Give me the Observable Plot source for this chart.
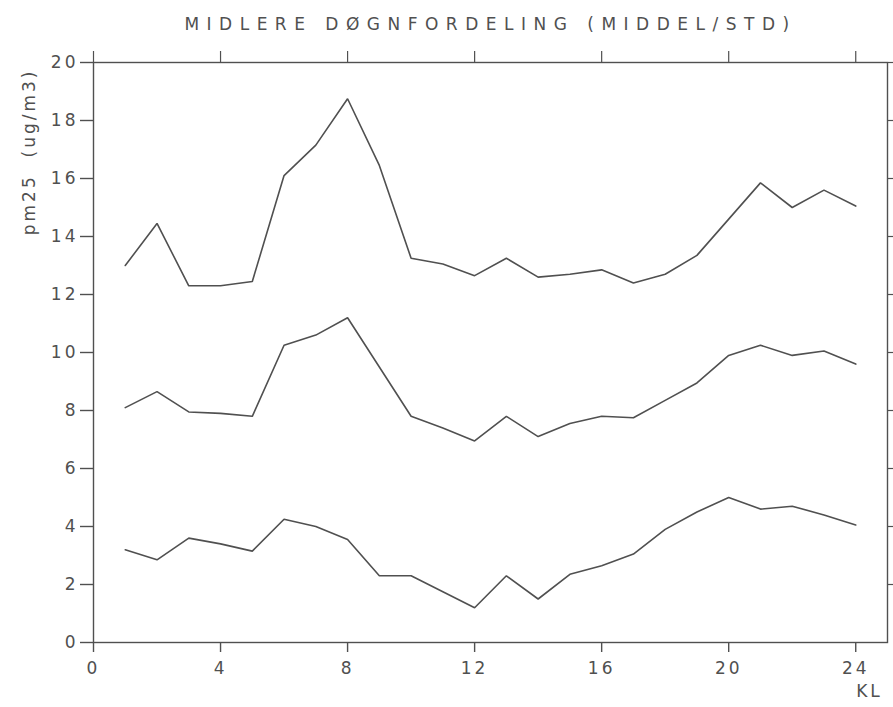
<!DOCTYPE html>
<html>
<head>
<meta charset="utf-8">
<script src="https://cdn.jsdelivr.net/npm/d3@7"></script>
<script src="https://cdn.jsdelivr.net/npm/@observablehq/plot@0.6"></script>
<style>
  html, body { margin: 0; padding: 0; background: #fff; }
</style>
</head>
<body>
<div id="chart"></div>
<script>
// Hour of day (KL) and daily profile of pm25 (ug/m3)
const hours = d3.range(1, 25);
const upper = [13.0, 14.45, 12.3, 12.3, 12.45, 16.1, 17.15, 18.75, 16.45, 13.25, 13.05, 12.65,
               13.25, 12.6, 12.7, 12.85, 12.4, 12.7, 13.35, 14.6, 15.85, 15.0, 15.6, 15.05];
const middel = [8.1, 8.65, 7.95, 7.9, 7.8, 10.25, 10.6, 11.2, 9.5, 7.8, 7.4, 6.95,
                7.8, 7.1, 7.55, 7.8, 7.75, 8.35, 8.95, 9.9, 10.25, 9.9, 10.05, 9.6];
const std = [3.2, 2.85, 3.6, 3.4, 3.15, 4.25, 4.0, 3.55, 2.3, 2.3, 1.75, 1.2,
             2.3, 1.5, 2.35, 2.65, 3.05, 3.9, 4.5, 5.0, 4.6, 4.7, 4.4, 4.05];

const xTicks = [0, 4, 8, 12, 16, 20, 24];
const yTicks = [0, 2, 4, 6, 8, 10, 12, 14, 16, 18, 20];

const title = "MIDLERE DØGNFORDELING (MIDDEL/STD)";
const yLabel = "pm25  (ug/m3)";
const xLabel = "KL";

const rows = [
  ...hours.map((h, i) => ({hour: h, value: upper[i], series: "upper"})),
  ...hours.map((h, i) => ({hour: h, value: middel[i], series: "middel"})),
  ...hours.map((h, i) => ({hour: h, value: std[i], series: "std"}))
];

const ink = "#505050";

const chart = Plot.plot({
  width: 893,
  height: 707,
  marginLeft: 93,
  marginRight: 6,
  marginTop: 62,
  marginBottom: 65,
  style: {
    fontFamily: "DejaVu Sans, sans-serif",
    fontSize: "17px",
    color: ink,
    background: "#fff",
    letterSpacing: "3px"
  },
  x: {domain: [0, 25]},
  y: {domain: [0, 20]},
  marks: [
    Plot.frame({stroke: ink, strokeWidth: 1.4}),
    Plot.axisY({ticks: yTicks, tickSize: 13, tickPadding: 2, anchor: "left", label: null, stroke: ink, strokeWidth: 1.4}),
    Plot.axisY({ticks: d3.range(2, 21, 2), tickSize: 5, anchor: "right", tickFormat: () => "", label: null, stroke: ink, strokeWidth: 1.2}),
    Plot.axisX({ticks: xTicks, tickSize: 10, tickPadding: 9, anchor: "bottom", label: null, stroke: ink, strokeWidth: 1.4}),
    Plot.axisX({ticks: xTicks, tickSize: 12, anchor: "top", tickFormat: () => "", label: null, stroke: ink, strokeWidth: 1.2}),
    Plot.line(rows, {x: "hour", y: "value", z: "series", stroke: ink, strokeWidth: 1.6, strokeLinejoin: "miter"}),
    Plot.text([title], {frameAnchor: "top", dy: -45, fontSize: 17, fill: ink}),
    Plot.text([yLabel], {frameAnchor: "top-left", dx: -71, dy: 6, rotate: -90, textAnchor: "end", fontSize: 17, fill: ink}),
    Plot.text([xLabel], {frameAnchor: "bottom-right", dx: -18, dy: 54, textAnchor: "middle", fontSize: 17, fill: ink})
  ]
});

// Wider spacing for the title, as in plotter lettering
d3.select(chart).selectAll("text").filter(function() { return this.textContent === title; })
  .style("letter-spacing", "7.5px");

document.getElementById("chart").appendChild(chart);
</script>
</body>
</html>
